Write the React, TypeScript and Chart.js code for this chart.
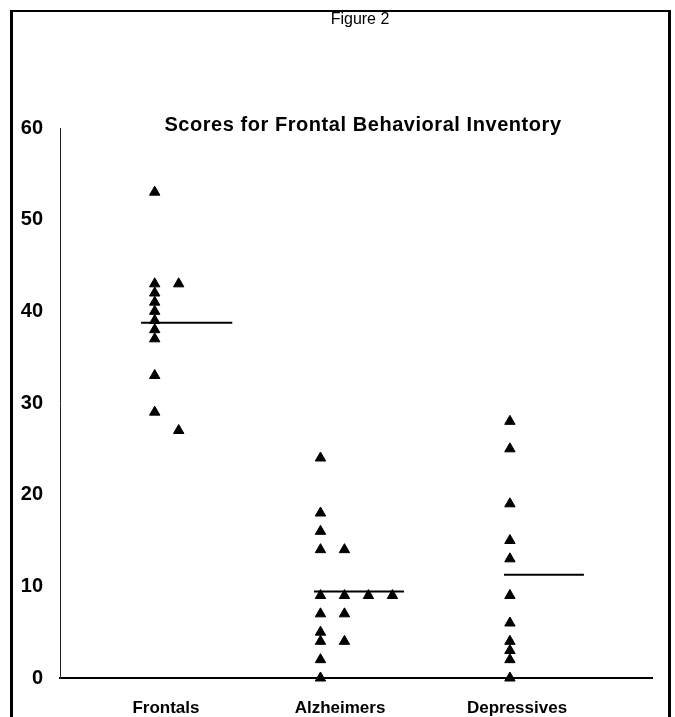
import React, { useEffect, useRef } from 'react';
import { Chart, registerables } from 'chart.js';

Chart.register(...registerables);

// ---- data ----
const categories = ['Frontals', 'Alzheimers', 'Depressives'];
const frontalsScores = [53, 43, 43, 42, 41, 40, 39, 38, 37, 33, 29, 27];
const frontalsSlots = [0, 0, 1, 0, 0, 0, 0, 0, 0, 0, 0, 1];
const alzheimersScores = [24, 18, 16, 14, 14, 9, 9, 9, 9, 7, 7, 5, 4, 4, 2, 0];
const alzheimersSlots = [0, 0, 0, 0, 1, 0, 1, 2, 3, 0, 1, 0, 0, 1, 0, 0];
const depressivesScores = [28, 25, 19, 15, 13, 9, 6, 4, 3, 2, 0];
const depressivesSlots = [0, 0, 0, 0, 0, 0, 0, 0, 0, 0, 0];
const yTickValues = [0, 10, 20, 30, 40, 50, 60];

const figureLabel = 'Figure 2';
const chartTitle = 'Scores for Frontal Behavioral Inventory';

// ---- layout (not data) ----
const groupX = [16, 44, 76];
const labelX = [17.9, 47.3, 77.2];
const slotStep = 4.05;
const meanSpan = [
  [-2.3, 13.1],
  [-1.1, 14.1],
  [-1.0, 12.5],
];
const FONT = '"Liberation Sans", Arial, Helvetica, sans-serif';

const groups = [
  { scores: frontalsScores, slots: frontalsSlots },
  { scores: alzheimersScores, slots: alzheimersSlots },
  { scores: depressivesScores, slots: depressivesSlots },
];

const framePlugin = {
  id: 'frameAndTitles',
  afterDraw(chart: any) {
    const { ctx, chartArea } = chart;
    ctx.save();
    ctx.fillStyle = '#000';
    ctx.fillRect(10, 10, 3, 720);
    ctx.fillRect(10, 10, 661, 2);
    ctx.fillRect(668, 10, 3, 720);
    ctx.textAlign = 'center';
    ctx.textBaseline = 'middle';
    ctx.font = `16px ${FONT}`;
    ctx.fillText(figureLabel, 360, 20);
    ctx.font = `bold 20px ${FONT}`;
    try {
      (ctx as any).letterSpacing = '0.55px';
    } catch (e) {
      /* ignore */
    }
    ctx.fillText(chartTitle, (chartArea.left + chartArea.right) / 2 + 7, chartArea.top - 3);
    ctx.restore();
  },
};

export default function App() {
  const canvasRef = useRef<HTMLCanvasElement | null>(null);

  useEffect(() => {
    if (!canvasRef.current) return;
    Chart.defaults.font.family = FONT;
    Chart.defaults.color = '#000';

    const datasets: any[] = [];
    groups.forEach((g, gi) => {
      datasets.push({
        type: 'scatter',
        label: categories[gi],
        data: g.scores.map((v, i) => ({ x: groupX[gi] + g.slots[i] * slotStep, y: v })),
        pointStyle: 'triangle',
        pointRadius: 6,
        pointHoverRadius: 6,
        backgroundColor: '#000',
        borderColor: '#000',
        borderWidth: 1,
        clip: false,
      });
      const mean = g.scores.reduce((a, b) => a + b, 0) / g.scores.length;
      datasets.push({
        type: 'line',
        label: categories[gi] + ' mean',
        data: [
          { x: groupX[gi] + meanSpan[gi][0], y: mean },
          { x: groupX[gi] + meanSpan[gi][1], y: mean },
        ],
        borderColor: '#000',
        borderWidth: 2,
        pointRadius: 0,
        fill: false,
        clip: false,
      });
    });

    const chart = new Chart(canvasRef.current, {
      type: 'scatter',
      data: { datasets },
      options: {
        animation: false,
        responsive: false,
        devicePixelRatio: 1,
        layout: { padding: { top: 128, right: 23, bottom: 0, left: 0 } },
        plugins: {
          legend: { display: false },
          tooltip: { enabled: false },
          title: { display: false },
        },
        scales: {
          x: {
            type: 'linear',
            min: 0,
            max: 100,
            afterBuildTicks: (s: any) => {
              s.ticks = labelX.map((v) => ({ value: v }));
            },
            afterFit: (s: any) => {
              s.height = 39;
            },
            ticks: {
              autoSkip: false,
              maxRotation: 0,
              padding: 20,
              color: '#000',
              font: { size: 17, weight: 'bold' },
              callback: (_v: any, i: number) => categories[i],
            },
            grid: { display: false, drawTicks: false },
            border: { display: true, color: '#000', width: 2 },
          },
          y: {
            type: 'linear',
            min: 0,
            max: 60,
            afterBuildTicks: (s: any) => {
              s.ticks = yTickValues.map((v) => ({ value: v }));
            },
            afterFit: (s: any) => {
              s.width = 60;
            },
            ticks: {
              padding: 17,
              color: '#000',
              font: { size: 20, weight: 'bold' },
              callback: (v: any) => String(v),
            },
            grid: { display: false, drawTicks: false },
            border: { display: true, color: '#222', width: 1 },
          },
        },
      },
      plugins: [framePlugin],
    } as any);

    return () => chart.destroy();
  }, []);

  return (
    <div style={{ position: 'fixed', left: 0, top: 0, width: 675, height: 717, overflow: 'hidden', background: '#fff' }}>
      <canvas ref={canvasRef} width={675} height={717} style={{ width: 675, height: 717, display: 'block' }} />
    </div>
  );
}
